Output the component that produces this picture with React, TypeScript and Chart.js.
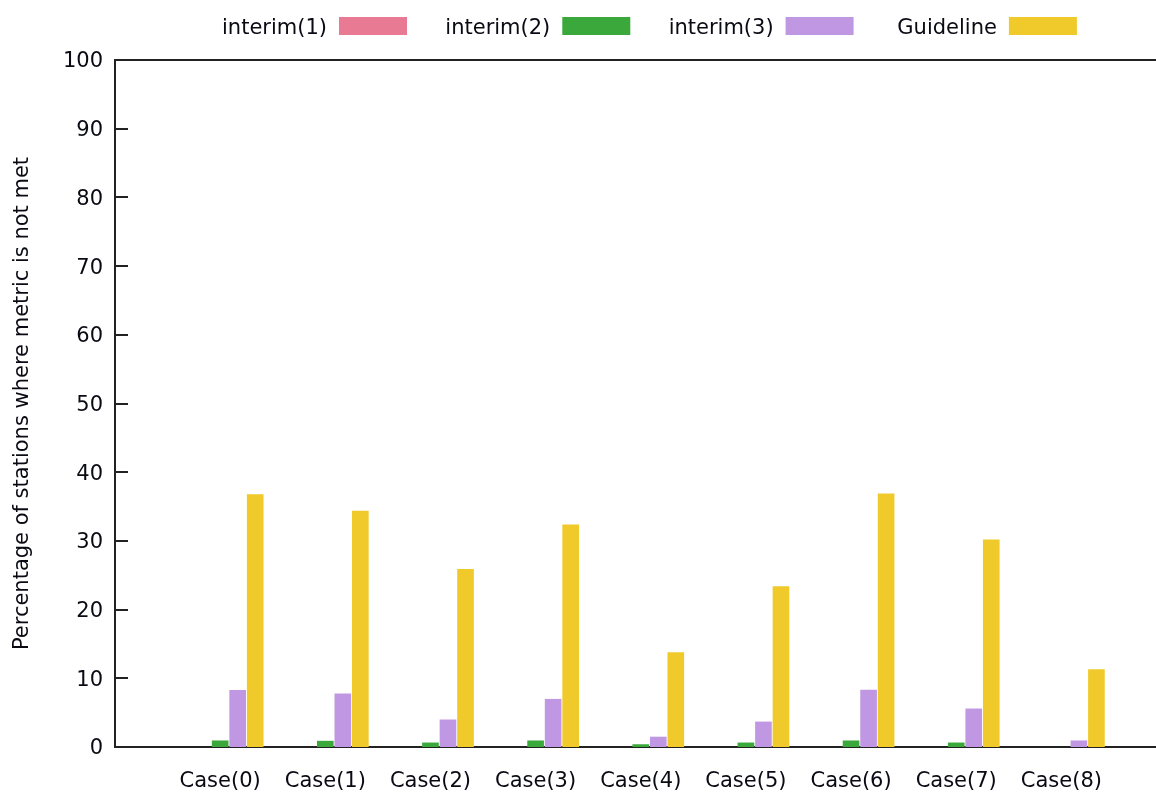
import React, { useEffect, useRef } from 'react';
import { Chart, registerables } from 'chart.js';

Chart.register(...registerables);

const categories = ['Case(0)', 'Case(1)', 'Case(2)', 'Case(3)', 'Case(4)', 'Case(5)', 'Case(6)', 'Case(7)', 'Case(8)'];
const seriesLabels = ['interim(1)', 'interim(2)', 'interim(3)', 'Guideline'];
const interim1 = [0, 0, 0, 0, 0, 0, 0, 0, 0];
const interim2 = [0.95, 0.9, 0.65, 0.95, 0.4, 0.65, 0.95, 0.65, 0];
const interim3 = [8.3, 7.8, 4.0, 7.0, 1.5, 3.7, 8.35, 5.6, 0.95];
const guideline = [36.8, 34.4, 25.9, 32.4, 13.8, 23.4, 36.9, 30.2, 11.3];
const seriesColors = ['#e87b93', '#3aa83a', '#c097e2', '#f0ca2a'];
const clusterOffsets = [-1 / 6, 0, 1 / 6, 2 / 6];
const yTitle = 'Percentage of stations where metric is not met';
const yMin = 0;
const yMax = 100;
const yStep = 10;

const FONT = "'DejaVu Sans', Verdana, sans-serif";
const TEXT = '#0a0a14';
const AXIS = '#222222';

const allSeries = [interim1, interim2, interim3, guideline];

const gnuplotPlugin = {
  id: 'gnuplotDecor',
  afterDraw(chart: any) {
    const ctx = chart.ctx;
    const area = chart.chartArea;
    const y = chart.scales.y;
    ctx.save();
    // top border
    ctx.strokeStyle = AXIS;
    ctx.lineWidth = 2;
    ctx.beginPath();
    ctx.moveTo(area.left, area.top);
    ctx.lineTo(area.right, area.top);
    ctx.stroke();
    // inward y ticks
    y.ticks.forEach((t: any) => {
      const py = Math.round(y.getPixelForValue(t.value));
      ctx.beginPath();
      ctx.moveTo(area.left, py);
      ctx.lineTo(area.left + 13, py);
      ctx.stroke();
    });
    // legend: text right-aligned before sample box
    ctx.font = `21px ${FONT}`;
    ctx.textAlign = 'right';
    ctx.textBaseline = 'middle';
    chart.data.datasets.forEach((ds: any, k: number) => {
      const bx = 339 + k * 223.3;
      ctx.fillStyle = ds.backgroundColor;
      ctx.fillRect(bx, 17, 68, 18);
      ctx.fillStyle = TEXT;
      ctx.fillText(ds.label, bx - 12, 28.5);
    });
    ctx.restore();
  },
};

export default function App() {
  const ref = useRef<HTMLCanvasElement>(null);

  useEffect(() => {
    document.body.style.margin = '0';
    const canvas = ref.current;
    if (!canvas) return;
    const datasets = allSeries.map((vals, j) => ({
      label: seriesLabels[j],
      data: vals.map((v, i) => ({ x: i + clusterOffsets[j], y: v })),
      backgroundColor: seriesColors[j],
      borderWidth: 0,
      grouped: false,
      categoryPercentage: 1,
      barPercentage: 0.95,
    }));
    const chart = new Chart(canvas, {
      type: 'bar',
      data: { datasets },
      plugins: [gnuplotPlugin],
      options: {
        responsive: false,
        animation: false,
        layout: { padding: { top: 60, left: 0, right: 0, bottom: 0 } },
        plugins: {
          legend: { display: false },
          tooltip: { enabled: false },
        },
        scales: {
          x: {
            type: 'linear',
            min: -1,
            max: 8.9,
            offset: false,
            grid: { display: false, drawTicks: false, offset: false },
            border: { display: true, color: AXIS, width: 2 },
            afterBuildTicks: (scale: any) => {
              scale.ticks = categories.map((_, i) => ({ value: i }));
            },
            afterFit: (scale: any) => {
              scale.height = 45;
            },
            ticks: {
              autoSkip: false,
              maxRotation: 0,
              padding: 22,
              color: TEXT,
              font: { family: FONT, size: 21 },
              callback: (v: any) => categories[Math.round(Number(v))] ?? '',
            },
          },
          y: {
            min: yMin,
            max: yMax,
            grid: { display: false, drawTicks: false },
            border: { display: true, color: AXIS, width: 2 },
            afterFit: (scale: any) => {
              scale.width = 115;
            },
            ticks: {
              stepSize: yStep,
              padding: 12,
              labelOffset: 2,
              color: TEXT,
              font: { family: FONT, size: 21 },
            },
            title: {
              display: true,
              text: yTitle,
              color: TEXT,
              font: { family: FONT, size: 21 },
              padding: { top: 10, bottom: 0 },
            },
          },
        },
      },
    } as any);
    return () => chart.destroy();
  }, []);

  return (
    <div style={{ position: 'fixed', left: 0, top: 0, width: 1156, height: 792, background: '#fff' }}>
      <canvas ref={ref} width={1156} height={792} />
    </div>
  );
}
